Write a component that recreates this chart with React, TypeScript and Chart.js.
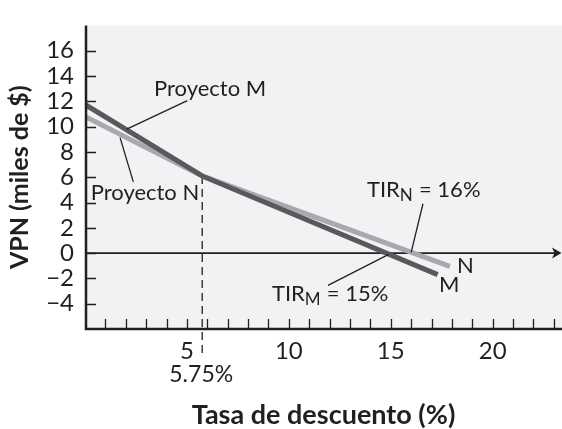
import React, { useEffect, useRef } from "react";
import { Chart, registerables } from "chart.js";

Chart.register(...registerables);

// ---- data ----
const ratesM = [0, 5.75, 17.3];
const npvM = [11.75, 6.1, -1.7];
const ratesN = [0, 5.75, 17.9];
const npvN = [10.8, 6.1, -1.05];

const xTickValues = [5, 10, 15, 20];
const xMinorTicks = [1, 2, 3, 4, 5, 6, 7, 8, 9, 10, 11, 12, 13, 14, 15, 16, 17, 18, 19, 20, 21, 22, 23];
const yTickValues = [-4, -2, 0, 2, 4, 6, 8, 10, 12, 14, 16];

const crossoverRate = 5.75;
const crossoverNpv = 6.1;
const crossoverLabel = "5.75%";
const irrM = 14.9;
const irrN = 16;

const xTitle = "Tasa de descuento (%)";
const yTitle = "VPN (miles de $)";

// ---- style ----
const FONT = 'Lato, "DejaVu Sans", sans-serif';
const INK = "#231f20";
const BG = "#f1f2f4";
const COLOR_M = "#58595b";
const COLOR_N = "#a7a9ac";

type Part = { t: string; sub?: boolean };
type Note = { parts: Part[]; at: [number, number]; leader?: [[number, number], [number, number]] };

const notes: Note[] = [
  { parts: [{ t: "Proyecto M" }], at: [3.385, 12.45], leader: [[2.05, 9.8], [5.02, 12.05]] },
  { parts: [{ t: "Proyecto N" }], at: [0.28, 4.22], leader: [[1.72, 9.13], [2.37, 5.63]] },
  {
    parts: [{ t: "TIR" }, { t: "N", sub: true }, { t: " = 16%" }],
    at: [13.83, 4.43],
    leader: [[16.58, 3.9], [irrN, 0.05]],
  },
  {
    parts: [{ t: "TIR" }, { t: "M", sub: true }, { t: " = 15%" }],
    at: [9.17, -3.77],
    leader: [[11.92, -2.55], [irrM, -0.1]],
  },
  { parts: [{ t: "N" }], at: [18.25, -1.58] },
  { parts: [{ t: "M" }], at: [17.37, -3.08] },
];

function drawParts(ctx: CanvasRenderingContext2D, parts: Part[], x: number, y: number) {
  let cx = x;
  for (const p of parts) {
    ctx.font = p.sub ? `17px ${FONT}` : `22px ${FONT}`;
    ctx.fillText(p.t, cx, y + (p.sub ? 4 : 0));
    cx += ctx.measureText(p.t).width + (p.sub ? 0.5 : 0);
  }
}

const overlay = {
  id: "overlay",
  beforeDraw(chart: any) {
    const { ctx, chartArea, width } = chart;
    ctx.save();
    ctx.fillStyle = BG;
    ctx.fillRect(chartArea.left, chartArea.top, width - chartArea.left, chartArea.bottom - chartArea.top);
    ctx.restore();
  },
  beforeDatasetsDraw(chart: any) {
    const { ctx, chartArea, width } = chart;
    const xs = chart.scales.x;
    const ys = chart.scales.y;
    ctx.save();
    // zero line with arrow
    const y0 = ys.getPixelForValue(0);
    ctx.strokeStyle = INK;
    ctx.lineWidth = 1.6;
    ctx.beginPath();
    ctx.moveTo(chartArea.left, y0);
    ctx.lineTo(width - 5, y0);
    ctx.stroke();
    ctx.fillStyle = INK;
    ctx.beginPath();
    ctx.moveTo(width - 0.5, y0);
    ctx.lineTo(width - 10, y0 - 5.5);
    ctx.lineTo(width - 7.5, y0);
    ctx.lineTo(width - 10, y0 + 5.5);
    ctx.closePath();
    ctx.fill();
    // dashed crossover line
    const xc = xs.getPixelForValue(crossoverRate);
    ctx.lineWidth = 1.3;
    ctx.setLineDash([8, 5]);
    ctx.beginPath();
    ctx.moveTo(xc, ys.getPixelForValue(crossoverNpv));
    ctx.lineTo(xc, ys.getPixelForValue(-8.1));
    ctx.stroke();
    ctx.restore();
  },
  afterDatasetsDraw(chart: any) {
    const { ctx, chartArea, width } = chart;
    const xs = chart.scales.x;
    const ys = chart.scales.y;
    const { left, top, bottom } = chartArea;
    ctx.save();
    ctx.strokeStyle = INK;
    // axes
    ctx.lineWidth = 2.5;
    ctx.beginPath();
    ctx.moveTo(left + 1, top);
    ctx.lineTo(left + 1, bottom + 1.25);
    ctx.moveTo(left, bottom);
    ctx.lineTo(width, bottom);
    ctx.stroke();
    // inward ticks
    ctx.lineWidth = 1.3;
    ctx.beginPath();
    for (const v of yTickValues) {
      const py = Math.round(ys.getPixelForValue(v)) + 0.5;
      ctx.moveTo(left + 2, py);
      ctx.lineTo(left + 11, py);
    }
    for (const v of xMinorTicks) {
      const px = Math.round(xs.getPixelForValue(v)) + 0.5;
      ctx.moveTo(px, bottom - 1);
      ctx.lineTo(px, bottom - 10);
    }
    ctx.stroke();
    // leader lines
    ctx.lineWidth = 1.3;
    ctx.beginPath();
    for (const n of notes) {
      if (!n.leader) continue;
      ctx.moveTo(xs.getPixelForValue(n.leader[0][0]), ys.getPixelForValue(n.leader[0][1]));
      ctx.lineTo(xs.getPixelForValue(n.leader[1][0]), ys.getPixelForValue(n.leader[1][1]));
    }
    ctx.stroke();
    // texts
    ctx.fillStyle = INK;
    ctx.textBaseline = "alphabetic";
    ctx.textAlign = "left";
    for (const n of notes) {
      drawParts(ctx, n.parts, xs.getPixelForValue(n.at[0]), ys.getPixelForValue(n.at[1]));
    }
    ctx.font = `23px ${FONT}`;
    ctx.textAlign = "center";
    ctx.fillText(crossoverLabel, xs.getPixelForValue(crossoverRate) - 1, ys.getPixelForValue(-10.2));
    ctx.restore();
  },
};

export default function App() {
  const ref = useRef<HTMLCanvasElement | null>(null);
  useEffect(() => {
    if (!ref.current) return;
    const chart = new Chart(ref.current, {
      type: "line",
      data: {
        datasets: [
          {
            label: "Proyecto M",
            data: ratesM.map((r, i) => ({ x: r, y: npvM[i] })),
            borderColor: COLOR_M,
            borderWidth: 5,
            pointRadius: 0,
            borderCapStyle: "butt",
            borderJoinStyle: "round",
            tension: 0,
          },
          {
            label: "Proyecto N",
            data: ratesN.map((r, i) => ({ x: r, y: npvN[i] })),
            borderColor: COLOR_N,
            borderWidth: 5,
            pointRadius: 0,
            borderCapStyle: "butt",
            borderJoinStyle: "round",
            tension: 0,
          },
        ],
      },
      options: {
        responsive: false,
        animation: false,
        devicePixelRatio: 1,
        layout: { padding: { top: 9, left: 0, right: 0, bottom: 0 } },
        plugins: { legend: { display: false }, tooltip: { enabled: false } },
        scales: {
          x: {
            type: "linear",
            min: 0,
            max: 23.4,
            grid: { display: false, drawTicks: false },
            border: { display: false },
            afterBuildTicks: (s: any) => {
              s.ticks = xTickValues.map((v) => ({ value: v }));
            },
            afterFit: (s: any) => {
              s.height = 100;
            },
            ticks: {
              font: { family: FONT, size: 24 },
              color: INK,
              padding: 8,
              maxRotation: 0,
              autoSkip: false,
              callback: (v: any) => String(v),
            },
            title: {
              display: true,
              text: xTitle,
              color: INK,
              font: { family: FONT, size: 27, weight: "bold", lineHeight: 1 },
              padding: { top: 0, bottom: 0 },
            },
          },
          y: {
            type: "linear",
            min: -6,
            max: 18,
            grid: { display: false, drawTicks: false },
            border: { display: false },
            afterBuildTicks: (s: any) => {
              s.ticks = yTickValues.map((v) => ({ value: v }));
            },
            afterFit: (s: any) => {
              s.width = 85;
            },
            ticks: {
              font: { family: FONT, size: 24 },
              color: INK,
              padding: 11,
              autoSkip: false,
              callback: (v: any) => (Number(v) < 0 ? "\u2212" + Math.abs(Number(v)) : String(v)),
            },
            title: {
              display: true,
              text: yTitle,
              color: INK,
              font: { family: FONT, size: 25, weight: "bold", lineHeight: 1 },
              padding: { top: 7.5, bottom: 0 },
            },
          },
        },
      },
      plugins: [overlay],
    } as any);
    return () => chart.destroy();
  }, []);
  return (
    <div style={{ position: "fixed", left: 0, top: 0, width: 562, height: 429, background: "#fff" }}>
      <canvas ref={ref} width={562} height={429} style={{ display: "block" }} />
    </div>
  );
}
